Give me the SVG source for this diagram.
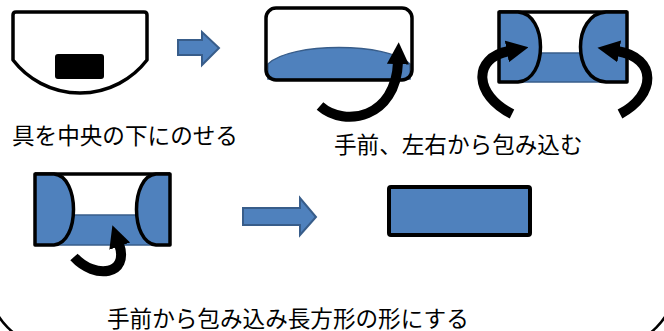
<svg xmlns="http://www.w3.org/2000/svg" width="664" height="331" viewBox="0 0 664 331">
  <style>
    .outline { fill: none; stroke: #000; stroke-width: 3.5; stroke-linejoin: round; }
    .blue { fill: #4f81bd; stroke: #385d8a; stroke-width: 1.5; }
    .flap { fill: #4f81bd; stroke: #000; stroke-width: 3.5; stroke-linejoin: round; }
    .block { fill: #4f81bd; stroke: #385d8a; stroke-width: 2; }
    .curl { fill: none; stroke: #000; stroke-width: 10; marker-end: url(#head); }
    .label { font-family: "Noto Sans CJK JP", "Noto Sans", sans-serif; font-size: 22.6px; fill: #000; }
  </style>
  <defs>
    <marker id="head" viewBox="0 0 10 10" refX="1" refY="5" markerWidth="2.2" markerHeight="2.4" orient="auto" markerUnits="strokeWidth">
      <path d="M0 0 L10 5 L0 10 Z" fill="#000"/>
    </marker>
  </defs>

  <rect width="664" height="331" fill="#fff"/>
  <!-- page frame, only its lower corners fall inside the canvas -->
  <rect x="-10" y="-80" width="684" height="425" rx="60" fill="none" stroke="#000" stroke-width="2.5"/>

  <!-- step 1: filling on the sheet -->
  <g id="step1">
    <path class="outline" d="M13 15 Q13 12 16 12 L144 12 Q147 12 147 15 L147 60 A84.5 84.5 0 0 1 13 60 Z"/>
    <rect x="55" y="54" width="49" height="25" rx="3" fill="#000"/>
  </g>

  <!-- step 2: fold the near edge up -->
  <g id="step2">
    <path class="blue" d="M268 64 C290 42 388 42 410 64 L410 79 L268 79 Z"/>
    <rect class="outline" x="266" y="8" width="146" height="72" rx="10"/>
  </g>

  <!-- step 3: fold both sides in -->
  <g id="step3">
    <path class="blue" d="M500 53 L626 53 L626 82 L500 82 Z"/>
    <line x1="499" y1="12" x2="627" y2="12" stroke="#000" stroke-width="3.5"/>
    <path class="flap" d="M499 12 L518 12 C548 14 548 80 518 82 L499 82 Z"/>
    <path class="flap" d="M627 12 L606 12 C572 14 572 80 606 82 L627 82 Z"/>
  </g>

  <!-- step 4: roll from the near edge -->
  <g id="step4">
    <path class="blue" d="M36 215 L169 215 L169 245 L36 245 Z"/>
    <line x1="35" y1="174" x2="170" y2="174" stroke="#000" stroke-width="3.5"/>
    <path class="flap" d="M35 174 L54 174 C80 176 80 243 54 245 L35 245 Z"/>
    <path class="flap" d="M170 174 L156 174 C130 176 130 243 156 245 L170 245 Z"/>
  </g>

  <!-- step 5: finished rectangle -->
  <g id="step5">
    <rect x="389" y="187" width="141" height="48" rx="2" fill="#4f81bd" stroke="#000" stroke-width="4"/>
  </g>

  <!-- arrows -->
  <g id="connectors">
    <path class="block" d="M178 40 L202 40 L202 32 L219 48 L202 65 L202 55 L178 55 Z"/>
    <path class="block" d="M243 208 L300 208 L300 198 L316 217 L300 235 L300 225 L243 225 Z"/>
    <path class="curl" d="M320 106 C345 128 396 118 398 62"/>
    <path class="curl" d="M512 114 C474 95 472 58 509 51"/>
    <path class="curl" d="M620 114 C656 95 658 58 617 51"/>
    <path class="curl" d="M74 257 C95 280 130 275 119 244"/>
  </g>

  <!-- captions -->
  <g id="labels">
    <text class="label" x="12" y="144">具を中央の下にのせる</text>
    <text class="label" x="334" y="153">手前、左右から包み込む</text>
    <text class="label" x="107" y="327">手前から包み込み長方形の形にする</text>
  </g>
</svg>
